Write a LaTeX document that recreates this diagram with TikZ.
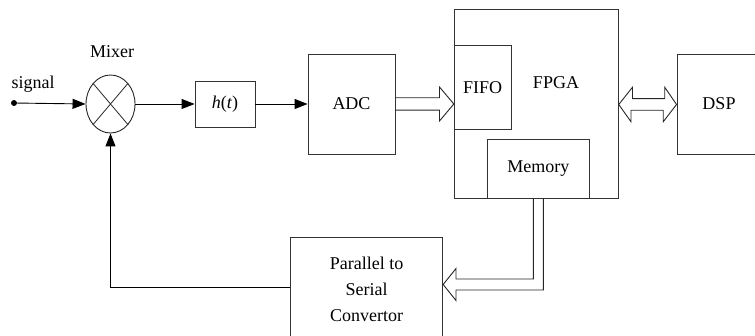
\documentclass[tikz,border=0pt]{standalone}
\usepackage{fontspec}
\setmainfont{Liberation Serif}
\usetikzlibrary{shapes.geometric,arrows.meta,calc}
\begin{document}
\begin{tikzpicture}[x=1pt,y=-1pt,
  every node/.style={font=\fontsize{18}{26}\selectfont, inner sep=0pt},
  blk/.style={draw=black!80, line width=0.9pt, rectangle, fill=none},
  conn/.style={draw=black, line width=0.9pt, -{Triangle[length=13pt,width=10pt]}},
  hollow/.style={draw=black!85, line width=0.9pt, line join=miter}
]
\useasboundingbox (0,0) rectangle (755,336);
\clip (0,0) rectangle (755,336);

% blocks
\node[draw=black!85, line width=0.9pt, ellipse, minimum width=49pt, minimum height=58pt] (mix) at (110.5,104) {};
\node (mixlbl) at (112,52) {Mixer};
\node (siglbl) at (33,84) {signal};
\coordinate (sig) at (14,103);
\fill (sig) circle (3pt);

\node[blk, minimum width=60pt, minimum height=46pt] (hbox) at (225,104) {\textit{h}(\textit{t})};
\node[blk, minimum width=87pt, minimum height=100pt] (adc) at (351.5,104) {ADC};
\node[blk, minimum width=164pt, minimum height=188.7pt] (fpga) at (536.3,103.65) {};
\node (fpgalbl) at (556,83) {FPGA};
\node[blk, minimum width=56.7pt, minimum height=84.7pt] (fifo) at (482.65,87.5) {FIFO};
\node[blk, minimum width=102pt, minimum height=58.7pt] (mem) at (538.3,168.65) {Memory};
\node[blk, minimum width=84pt, minimum height=100pt] (dsp) at (719,104) {DSP};
\node[blk, minimum width=152pt, minimum height=103.7pt, align=center] (p2s) at (366.7,289.2) {Parallel to\\Serial\\Convertor};

% mixer cross
\draw[draw=black!85, line width=0.8pt] (mix.north west) -- (mix.south east);
\draw[draw=black!85, line width=0.8pt] (mix.north east) -- (mix.south west);

% connectors
\draw[conn] (sig) -- (mix.west);
\draw[conn] (mix.east) -- (hbox.west);
\draw[conn] (hbox.east) -- (adc.west);
\draw[conn] (p2s.west |- 0,287) -- (mix.south |- 0,287) -- (mix.south);

% ADC -> FIFO hollow arrow
\draw[hollow] ($(adc.east)+(0,-6.2)$) -- ++(44,0) -- ++(0,-10.8) -- (fifo.west |- adc.east)
  -- ($(adc.east)+(44,17)$) -- ++(0,-10.8) -- ($(adc.east)+(0,6.2)$);

% FPGA <-> DSP double arrow
\draw[hollow] (fpga.east |- 0,104.5) -- ++(13.7,-17.2) -- ++(0,11.4) -- ++(32.3,0) -- ++(0,-11.4)
  -- (dsp.west |- 0,104.5) -- ++(-13.3,17.2) -- ++(0,-11.4) -- ++(-32.3,0) -- ++(0,11.4) -- cycle;

% Memory -> P2S hollow arrow
\draw[hollow] (mem.south -| 533.3,0) -- (533.3,279) -- (456,279) -- (456,268.5) -- (p2s.east |- 0,284.5)
  -- (456,300.5) -- (456,290) -- (543.3,290) -- (mem.south -| 543.3,0);
\end{tikzpicture}
\end{document}
